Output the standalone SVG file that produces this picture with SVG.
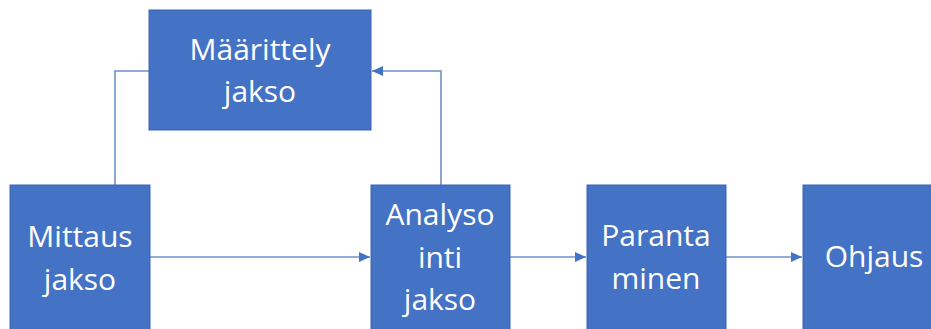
<svg xmlns="http://www.w3.org/2000/svg" width="931" height="329" viewBox="0 0 931 329">
<style>
.box{fill:#4472C4;stroke:#3A65B3;stroke-width:1}
.lbl{font-family:"Open Sans","Noto Sans",sans-serif;font-size:30px;fill:#FFFFFF;text-anchor:middle}
.con{fill:none;stroke:#6F8FCB;stroke-width:1.6}
</style>
<defs>
<marker id="arr" markerUnits="userSpaceOnUse" markerWidth="12" markerHeight="12" viewBox="0 0 12 12" refX="11" refY="6" orient="auto">
<path d="M0,1 L11,6 L0,11 Z" fill="#4472C4"/>
</marker>
</defs>
<rect width="931" height="329" fill="#FFFFFF"/>
<g id="connectors">
<polyline class="con" points="115,185 115,71 149,71"/>
<polyline class="con" points="441,185 441,71 372,71" marker-end="url(#arr)"/>
<line class="con" x1="150" y1="257" x2="370" y2="257" marker-end="url(#arr)"/>
<line class="con" x1="510" y1="257" x2="586" y2="257" marker-end="url(#arr)"/>
<line class="con" x1="726" y1="257" x2="802" y2="257" marker-end="url(#arr)"/>
</g>
<g id="maarittely">
<rect class="box" x="149" y="10" width="222" height="120"/>
<text class="lbl" x="260" y="60">Määrittely</text>
<text class="lbl" x="260" y="102">jakso</text>
</g>
<g id="mittaus">
<rect class="box" x="10" y="185" width="140" height="150"/>
<text class="lbl" x="80" y="247">Mittaus</text>
<text class="lbl" x="80" y="290">jakso</text>
</g>
<g id="analysointi">
<rect class="box" x="371" y="185" width="139" height="150"/>
<text class="lbl" x="440" y="225">Analyso</text>
<text class="lbl" x="440" y="268">inti</text>
<text class="lbl" x="440" y="310">jakso</text>
</g>
<g id="parantaminen">
<rect class="box" x="587" y="185" width="139" height="150"/>
<text class="lbl" x="656" y="246">Paranta</text>
<text class="lbl" x="656" y="289">minen</text>
</g>
<g id="ohjaus">
<rect class="box" x="803" y="185" width="142" height="150"/>
<text class="lbl" x="874" y="267">Ohjaus</text>
</g>
</svg>
